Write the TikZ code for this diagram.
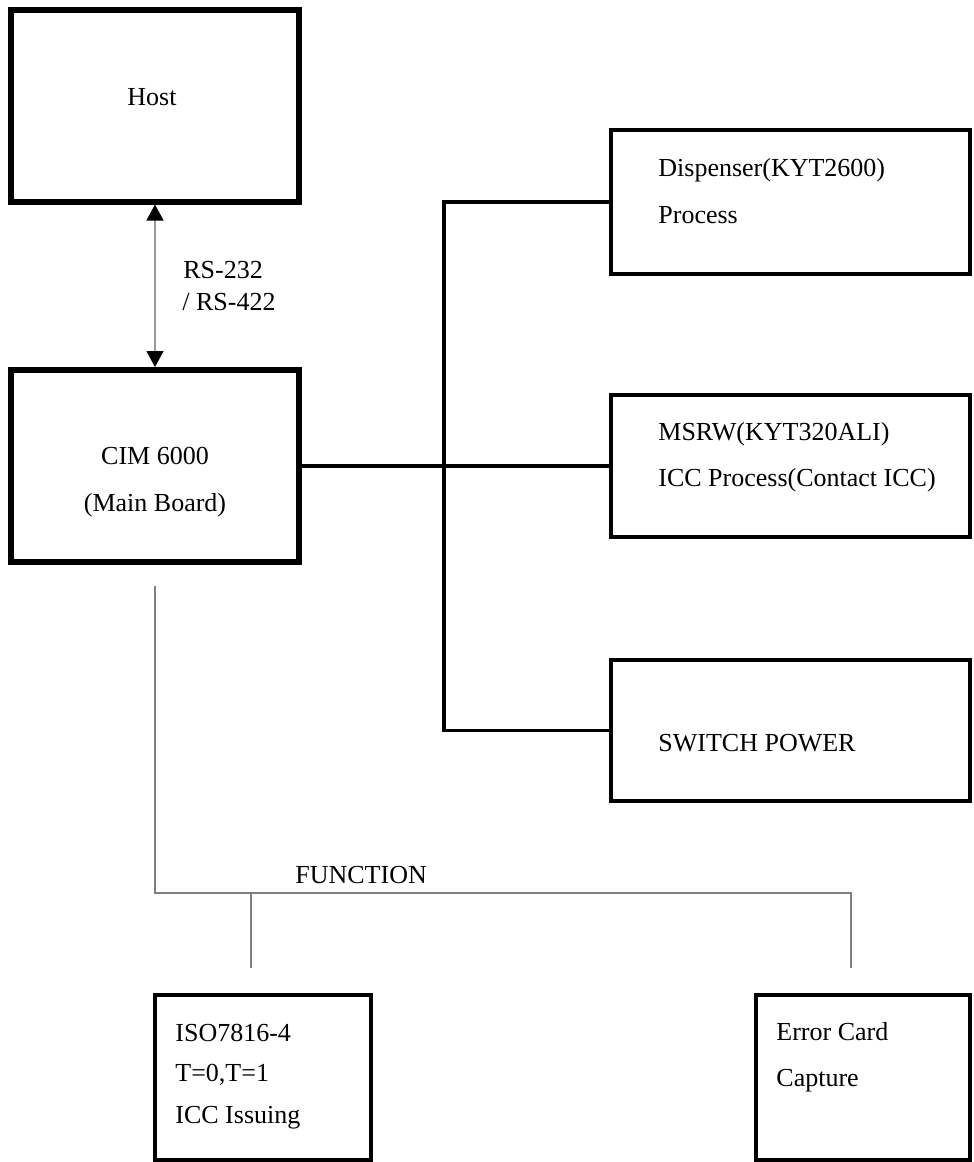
\documentclass[tikz,border=0pt]{standalone}
\usepackage{fontspec}
\setmainfont{Liberation Serif}
\usetikzlibrary{arrows.meta,
	positioning
}
\tikzset{
	mainbox/.style={draw, line width=3pt, inner sep=0pt, minimum width=144pt, minimum height=96pt},
	unitbox/.style={draw, line width=1.75pt, inner sep=0pt, minimum width=179.5pt, minimum height=#1},
	funcbox/.style={draw, line width=2pt, inner sep=0pt, minimum width=#1, minimum height=82.5pt},
	txt-left/.style={inner sep=0pt, font=\fontsize{13}{15}\selectfont, anchor=base west},
	txt-mid/.style={inner sep=0pt, font=\fontsize{13}{15}\selectfont, anchor=base},
	bus/.style={line width=1.85pt},
	thin-gray/.style={draw=black!50, line width=0.6pt},
	link/.style={draw=black!40, line width=0.6pt, {Triangle[width=8.5pt,length=8pt,color=black]}-{Triangle[width=8.5pt,length=8pt,color=black]}},
}

\begin{document}
\begin{tikzpicture}[x=0.5pt, y=-0.5pt]

\useasboundingbox (0,0) rectangle (974,1162);

% boxes

\node[mainbox] (host) at (155,105.5) {};
\node[mainbox] (cim) at (155,466) {};

\node[unitbox=72pt] (disp) at (790.5,202) {};
\node[unitbox=71pt] (msrw) at (790.5,466) {};
\node[unitbox=70.5pt] (sw) at (790.5,730.5) {};

\node[funcbox=108pt] (iso) at (263,1077.5) {};
\node[funcbox=107pt] (err) at (863,1077.5) {};

% texts

\node[txt-mid] (hostT) at (152,105.5) {Host};
\node[txt-left] (rs1) at (183,278.5) {RS-232};
\node[txt-left] (rs2) at (182,310.5) {/ RS-422};
\node[txt-mid] (cimT1) at (155,464.5) {CIM 6000};
\node[txt-mid] (cimT2) at (155,511.5) {(Main Board)};

\node[txt-left] (dispT1) at (658,176.5) {Dispenser(KYT2600)};
\node[txt-left] (dispT2) at (658,223.5) {Process};
\node[txt-left] (msrwT1) at (658,440.5) {MSRW(KYT320ALI)};
\node[txt-left] (msrwT2) at (658,486.5) {ICC Process(Contact ICC)};
\node[txt-left] (swT) at (658,751.5) {SWITCH POWER};

\node[txt-left] (func) at (295,883.5) {FUNCTION};
\node[txt-left] (isoT1) at (175,1041.5) {ISO7816-4};
\node[txt-left] (isoT2) at (175,1081.5) {T=0,T=1};
\node[txt-left] (isoT3) at (175,1123.5) {ICC Issuing};
\node[txt-left] (errT1) at (776,1040.5) {Error Card};
\node[txt-left] (errT2) at (776,1086.5) {Capture};

% connections

\path (host.south) edge [link] (cim.north);

\coordinate (bustop) at (444,202);
\coordinate (busbot) at (444,730.5);
\draw[bus] (disp.west) -- (bustop) -- (busbot) -- (sw.west);
\draw[bus] (cim.east) -- (msrw.west);

\coordinate (fstart) at (155,586);
\coordinate (fsplit) at (155,893);
\coordinate (isotick) at (251,968);
\coordinate (errtick) at (851,968);
\draw[thin-gray] (fstart) -- (fsplit) -| (errtick);
\draw[thin-gray] (isotick |- fsplit) -- (isotick);

\end{tikzpicture}
\end{document}
